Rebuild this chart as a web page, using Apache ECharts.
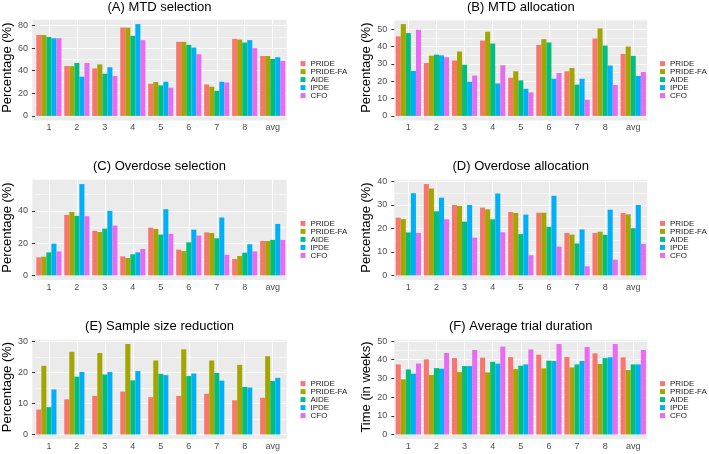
<!DOCTYPE html>
<html>
<head>
<meta charset="utf-8">
<script src="https://cdn.jsdelivr.net/npm/echarts@6/dist/echarts.min.js"></script>
<style>
  html, body { margin: 0; padding: 0; background: #fff; }
  #chart { width: 709px; height: 454px; }
</style>
</head>
<body>
<div id="chart"></div>
<script>
// categories and methods
var categories = ['1', '2', '3', '4', '5', '6', '7', '8', 'avg'];
var methods = ['PRIDE', 'PRIDE-FA', 'AIDE', 'IPDE', 'CFO'];

// one row per method, in the order of `methods`
var mtdSelection = [
  [71.6, 44.1, 42.0, 78.2, 28.4, 65.5, 27.8, 68.1, 53.0],
  [71.5, 44.0, 45.6, 78.0, 30.0, 65.5, 25.8, 67.5, 53.0],
  [69.8, 46.8, 37.3, 70.8, 27.0, 62.8, 22.2, 64.9, 50.4],
  [68.7, 34.7, 43.0, 81.2, 30.2, 60.4, 30.2, 67.0, 51.9],
  [68.7, 46.8, 35.3, 67.0, 25.0, 54.5, 29.6, 59.9, 48.6]
];
var mtdAllocation = [
  [45.8, 30.5, 31.9, 43.4, 22.0, 40.9, 25.7, 44.6, 35.7],
  [52.9, 34.7, 37.1, 48.5, 25.7, 44.2, 27.6, 50.4, 40.0],
  [47.7, 35.3, 29.5, 41.7, 20.5, 42.3, 18.0, 40.5, 34.6],
  [25.9, 34.9, 19.7, 18.7, 15.6, 21.4, 21.4, 29.0, 23.0],
  [49.6, 33.8, 23.2, 29.2, 13.5, 24.7, 9.3, 17.8, 25.3]
];
var overdoseSelection = [
  [11.2, 37.5, 27.6, 11.8, 29.6, 16.0, 26.7, 10.2, 21.3],
  [11.6, 39.4, 26.9, 10.8, 28.8, 15.1, 26.3, 12.0, 21.3],
  [14.3, 36.9, 29.0, 13.1, 25.3, 20.5, 23.0, 14.1, 22.0],
  [19.7, 56.6, 40.0, 14.3, 41.0, 28.4, 35.9, 19.3, 31.9],
  [14.9, 36.7, 30.9, 16.4, 25.7, 24.7, 12.8, 14.9, 22.0]
];
var overdoseAllocation = [
  [24.6, 38.9, 30.0, 28.9, 27.0, 26.7, 18.1, 18.1, 26.6],
  [24.0, 37.0, 29.6, 28.1, 26.6, 26.7, 17.4, 18.6, 26.0],
  [18.3, 27.3, 22.9, 23.9, 17.6, 20.7, 13.6, 17.3, 20.1],
  [35.0, 33.1, 30.0, 34.9, 25.9, 33.9, 19.6, 28.0, 30.0],
  [18.1, 23.9, 16.1, 18.4, 8.6, 12.3, 3.9, 6.7, 13.4]
];
var sampleReduction = [
  [8.0, 11.3, 12.4, 13.8, 12.0, 12.4, 13.1, 11.0, 11.8],
  [22.1, 26.6, 26.2, 29.1, 23.8, 27.4, 23.8, 22.4, 25.2],
  [8.8, 18.6, 19.3, 17.4, 19.5, 18.8, 19.8, 15.3, 17.2],
  [14.5, 20.1, 20.1, 20.4, 19.1, 19.6, 17.3, 15.1, 18.2],
  [null, null, null, null, null, null, null, null, null]
];
var trialDuration = [
  [37.5, 40.2, 40.9, 41.1, 41.4, 42.7, 41.4, 43.4, 41.3],
  [29.5, 31.8, 33.4, 33.2, 35.0, 35.4, 35.9, 37.7, 34.5],
  [34.8, 35.5, 36.6, 38.9, 36.8, 39.5, 37.5, 40.9, 37.5],
  [32.5, 35.2, 36.6, 37.9, 37.5, 39.3, 39.3, 41.3, 37.5],
  [38.0, 43.6, 45.2, 47.0, 45.5, 48.4, 46.8, 48.4, 45.2]
];

var colors = ['#F8766D', '#A3A500', '#00BF7D', '#00B0F6', '#E76BF3'];
var font = 'Liberation Sans, Arial, Helvetica, sans-serif';

// panel layout (grey plotting area of each facet)
var panels = [
  { title: '(A) MTD selection', yName: 'Percentage (%)', data: mtdSelection, step: 20, x: 32.3, y: 19.5, w: 254.4, h: 101, row: 0 },
  { title: '(B) MTD allocation', yName: 'Percentage (%)', data: mtdAllocation, step: 10, x: 394.3, y: 19.5, w: 253, h: 101, row: 0 },
  { title: '(C) Overdose selection', yName: 'Percentage (%)', data: overdoseSelection, step: 20, x: 32.3, y: 179.5, w: 254.4, h: 100.5, row: 1 },
  { title: '(D) Overdose allocation', yName: 'Percentage (%)', data: overdoseAllocation, step: 10, x: 394.3, y: 179.5, w: 253, h: 100.5, row: 1 },
  { title: '(E) Sample size reduction', yName: 'Percentage (%)', data: sampleReduction, step: 10, x: 32.3, y: 339.5, w: 254.4, h: 99.5, row: 2 },
  { title: '(F) Average trial duration', yName: 'Time (in weeks)', data: trialDuration, step: 10, x: 394.3, y: 339.5, w: 253, h: 99.5, row: 2 }
];
var titleTops = [0.5, 160, 319.5];
var legendTops = [59.6, 219.4, 379.6];
var legendLefts = [300.5, 660];

var grids = [], xAxes = [], yAxes = [], series = [], titles = [], legends = [], rects = [];

panels.forEach(function (p, i) {
  var vals = [];
  p.data.forEach(function (row) { row.forEach(function (v) { if (v != null) vals.push(v); }); });
  var top = Math.max.apply(null, vals) * 1.05;
  var gh = p.h * 1.05 / 1.1;     // grid ends at y = 0, panel goes 5% further down
  var off = p.h - gh;
  var majors = [];
  for (var t = 0; t <= top; t += p.step) majors.push(t);

  // grey panel background
  rects.push({
    type: 'rect', z: -10, silent: true,
    shape: { x: p.x, y: p.y, width: p.w, height: p.h },
    style: { fill: '#EBEBEB' }
  });

  grids.push({ left: p.x, top: p.y, width: p.w, height: gh });

  titles.push({
    text: p.title, left: p.x + p.w / 2, top: titleTops[p.row], textAlign: 'center', padding: 0,
    textStyle: { fontSize: 13, fontWeight: 'normal', color: '#000', fontFamily: font }
  });

  xAxes.push({
    gridIndex: i, type: 'category', data: categories, offset: off,
    axisLine: { show: false },
    axisTick: { alignWithLabel: true, length: 3, lineStyle: { color: '#333', width: 1 } },
    axisLabel: { interval: 0, color: '#4D4D4D', fontSize: 9, margin: 3, fontFamily: font },
    // vertical grid lines through the category centres
    splitLine: { show: true, interval: 0, alignWithLabel: true, lineStyle: { color: '#fff', width: 1 } }
  });

  // labelled axis with major grid lines
  yAxes.push({
    gridIndex: i, type: 'value', min: 0, max: top, interval: p.step,
    name: p.yName, nameLocation: 'middle', nameGap: 17,
    nameTextStyle: { fontSize: 13, color: '#000', fontFamily: font },
    axisLine: { show: false },
    axisTick: { show: true, length: 3, customValues: majors, lineStyle: { color: '#333', width: 1 } },
    axisLabel: { customValues: majors, color: '#4D4D4D', fontSize: 9, margin: 7, fontFamily: font },
    splitLine: { show: true, lineStyle: { color: '#fff', width: 1 } }
  });
  // minor grid lines
  yAxes.push({
    gridIndex: i, type: 'value', min: 0, max: top, interval: p.step / 2,
    axisLine: { show: false }, axisTick: { show: false }, axisLabel: { show: false },
    splitLine: { show: true, lineStyle: { color: '#fff', width: 0.5 } }
  });

  methods.forEach(function (m, j) {
    series.push({
      type: 'bar', name: m, xAxisIndex: i, yAxisIndex: 2 * i,
      data: p.data[j], barGap: '0%', barCategoryGap: '10%',
      itemStyle: { color: colors[j] }, silent: true
    });
  });

  legends.push({
    orient: 'vertical', left: legendLefts[i % 2], top: legendTops[p.row],
    data: methods, icon: 'rect', itemWidth: 5, itemHeight: 5, itemGap: 0, padding: 0,
    selectedMode: false,
    textStyle: { fontSize: 8, lineHeight: 7.35, color: '#1a1a1a', fontFamily: font }
  });
});

var chart = echarts.init(document.getElementById('chart'), null, { renderer: 'canvas' });
chart.setOption({
  animation: false,
  color: colors,
  textStyle: { fontFamily: font },
  title: titles,
  legend: legends,
  grid: grids,
  xAxis: xAxes,
  yAxis: yAxes,
  series: series,
  graphic: { elements: rects }
});
</script>
</body>
</html>
